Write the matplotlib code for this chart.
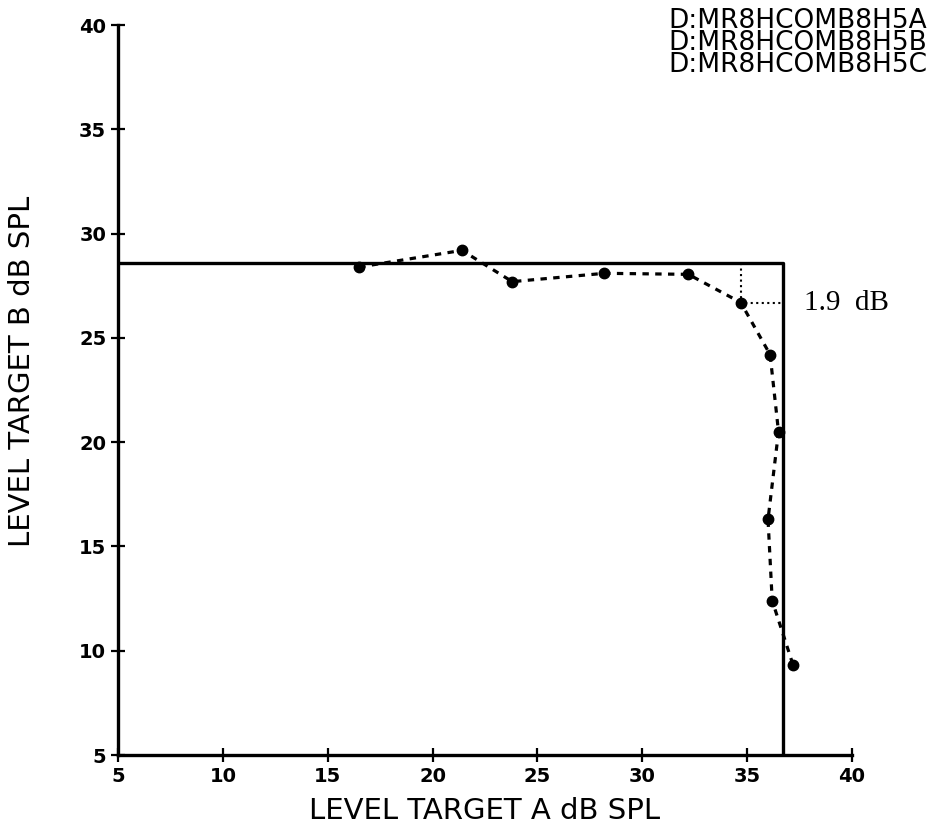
import matplotlib
import matplotlib.pyplot as plt

matplotlib.use("Agg")

# measured points (level A, level B)
level_a = [16.5, 21.4, 23.8, 28.2, 32.2, 34.7, 36.1, 36.5, 36.0, 36.2, 37.2]
level_b = [28.4, 29.2, 27.7, 28.1, 28.05, 26.7, 24.2, 20.5, 16.3, 12.4, 9.3]

# solid boundary (horizontal at B limit, vertical at A limit)
limit_a = 36.7
limit_b = 28.6

# dotted marker for the 1.9 dB reading
mark_a = 34.7
mark_b = 26.7

files = ["D:MR8HCOMB8H5A", "D:MR8HCOMB8H5B", "D:MR8HCOMB8H5C"]
ticks = [5, 10, 15, 20, 25, 30, 35, 40]

fig = plt.figure(figsize=(9.3, 8.38), dpi=100)
ax = fig.add_axes([0.127, 0.099, 0.789, 0.871])

ax.plot([5, limit_a, limit_a], [limit_b, limit_b, 5], "-", color="black", lw=2.4)
ax.plot([mark_a, mark_a, limit_a], [limit_b, mark_b, mark_b], ":", color="black", lw=1.5)
ax.plot(level_a, level_b, "--", color="black", lw=2.3, dashes=(2.0, 2.0))
ax.plot(level_a, level_b, "o", color="black", ms=7.5)

ax.text(37.7, mark_b, "1.9  dB", fontsize=21, family="Liberation Serif", va="center", ha="left")

ax.set_xlim(5, 40)
ax.set_ylim(5, 40)
ax.set_xticks(ticks)
ax.set_yticks(ticks)
ax.tick_params(direction="inout", length=10, width=1.6, labelsize=14)
for lab in ax.get_xticklabels() + ax.get_yticklabels():
    lab.set_fontweight("bold")
for side in ["top", "right"]:
    ax.spines[side].set_visible(False)
for side in ["left", "bottom"]:
    ax.spines[side].set_linewidth(2.4)

ax.set_xlabel("LEVEL TARGET A dB SPL", fontsize=21, labelpad=8)
ax.set_ylabel("LEVEL TARGET B dB SPL", fontsize=21)
ax.yaxis.set_label_coords(-0.112, 0.525)

fig.text(0.997, 0.99, "\n".join(files), ha="right", va="top", fontsize=19, linespacing=0.78)

fig.savefig("out.png", dpi=100)
